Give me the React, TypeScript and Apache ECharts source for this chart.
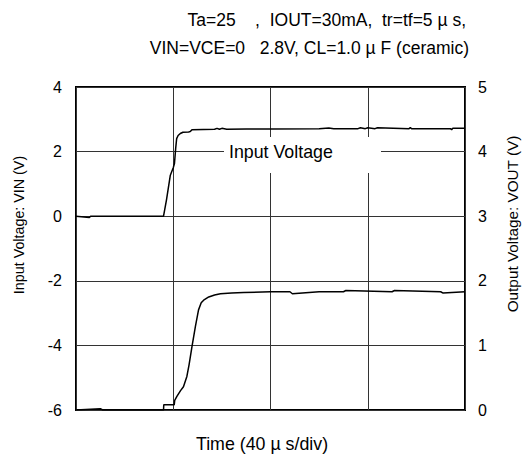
import React, { useEffect, useRef } from "react";
import * as echarts from "echarts";

// Time in µs, voltages in V
const vinTime = [0, 5.5, 6, 36.0, 37.2, 38.8, 40.0, 40.5, 41.0, 41.4, 42.0, 42.9, 44.0, 46.3, 47.0, 47.7, 57, 58, 59, 60, 62, 70, 80, 100, 104, 106, 110, 116, 117, 119, 120, 123, 124, 137, 137.5, 138, 154, 154.5, 155, 160];
const vinValue = [0, -0.04, 0, 0, 0.5, 1.27, 1.5, 1.63, 2.1, 2.4, 2.5, 2.56, 2.6, 2.61, 2.62, 2.68, 2.69, 2.72, 2.69, 2.72, 2.69, 2.70, 2.70, 2.71, 2.73, 2.71, 2.71, 2.71, 2.74, 2.71, 2.74, 2.71, 2.74, 2.71, 2.74, 2.71, 2.71, 2.68, 2.72, 2.72];

const voutTime = [0, 10, 11, 36.0, 36.1, 40.4, 40.6, 41.5, 43.0, 44.2, 45.6, 46.5, 47.7, 49.1, 50.4, 51.5, 52.5, 54.6, 57.0, 59.4, 64.0, 68.9, 80, 88, 89, 100, 110, 111, 130, 131, 150, 151, 160];
const voutValue = [0, 0.02, 0, 0, 0.08, 0.08, 0.15, 0.21, 0.3, 0.36, 0.52, 0.7, 0.98, 1.29, 1.55, 1.66, 1.70, 1.75, 1.78, 1.80, 1.81, 1.82, 1.83, 1.83, 1.80, 1.83, 1.83, 1.85, 1.83, 1.85, 1.83, 1.81, 1.83];

const leftTicks = { min: -6, max: 4, interval: 2 };
const rightTicks = { min: 0, max: 5, interval: 1 };
const timeAxis = { min: 0, max: 160, interval: 40 };

const titleLine1 = "Ta=25    ,  IOUT=30mA,  tr=tf=5 µ s,";
const titleLine2 = "VIN=VCE=0   2.8V, CL=1.0 µ F (ceramic)";
const xName = "Time (40 µ s/div)";
const leftName = "Input Voltage: VIN (V)";
const rightName = "Output Voltage: VOUT (V)";
const innerLabel = "Input Voltage";

const FONT = "'Liberation Sans', Arial, sans-serif";

export default function App() {
  const ref = useRef<HTMLDivElement>(null);
  useEffect(() => {
    if (!ref.current) return;
    const chart = echarts.init(ref.current, null, { renderer: "svg" });
    const gridColor = "#333";
    chart.setOption({
      animation: false,
      backgroundColor: "#fff",
      textStyle: { fontFamily: FONT },
      grid: { left: 76, right: 63, top: 87, bottom: 47, show: true, borderColor: "#000", borderWidth: 2, backgroundColor: "transparent" },
      xAxis: {
        type: "value",
        min: timeAxis.min,
        max: timeAxis.max,
        interval: timeAxis.interval,
        axisLabel: { show: false },
        axisTick: { show: false },
        axisLine: { show: false },
        splitLine: { show: true, lineStyle: { color: gridColor, width: 1 } },
      },
      yAxis: [
        {
          type: "value",
          min: leftTicks.min,
          max: leftTicks.max,
          interval: leftTicks.interval,
          position: "left",
          axisLabel: { color: "#000", fontSize: 16, margin: 14, fontFamily: FONT },
          axisTick: { show: false },
          axisLine: { show: false },
          splitLine: { show: true, lineStyle: { color: gridColor, width: 1 } },
        },
        {
          type: "value",
          min: rightTicks.min,
          max: rightTicks.max,
          interval: rightTicks.interval,
          position: "right",
          axisLabel: { color: "#000", fontSize: 16, margin: 13, fontFamily: FONT },
          axisTick: { show: false },
          axisLine: { show: false },
          splitLine: { show: false },
        },
      ],
      series: [
        {
          type: "line",
          yAxisIndex: 0,
          data: vinTime.map((t, i) => [t, vinValue[i]]),
          showSymbol: false,
          lineStyle: { color: "#000", width: 1.5 },
          z: 5,
        },
        {
          type: "line",
          yAxisIndex: 1,
          data: voutTime.map((t, i) => [t, voutValue[i]]),
          showSymbol: false,
          lineStyle: { color: "#000", width: 1.5 },
          z: 5,
        },
      ],
      graphic: [
        {
          type: "rect",
          shape: { x: 224, y: 137, width: 157, height: 36 },
          style: { fill: "#fff" },
          z: 10,
        },
        {
          type: "text",
          x: 229,
          y: 152,
          style: { text: innerLabel, fontSize: 17.8, fontFamily: FONT, fill: "#000", textVerticalAlign: "middle", textAlign: "left" },
          z: 11,
        },
        {
          type: "text",
          x: 466,
          y: 20,
          style: { text: titleLine1, fontSize: 17.5, fontFamily: FONT, fill: "#000", textVerticalAlign: "middle", textAlign: "right" },
        },
        {
          type: "text",
          x: 469,
          y: 48,
          style: { text: titleLine2, fontSize: 17.5, fontFamily: FONT, fill: "#000", textVerticalAlign: "middle", textAlign: "right" },
        },
        {
          type: "text",
          x: 262,
          y: 444,
          style: { text: xName, fontSize: 17.8, fontFamily: FONT, fill: "#000", textVerticalAlign: "middle", textAlign: "center" },
        },
        {
          type: "text",
          x: 19,
          y: 225,
          rotation: Math.PI / 2,
          style: { text: leftName, fontSize: 14.3, fontFamily: FONT, fill: "#000", textVerticalAlign: "middle", textAlign: "center" },
        },
        {
          type: "text",
          x: 512,
          y: 224,
          rotation: Math.PI / 2,
          style: { text: rightName, fontSize: 15.3, fontFamily: FONT, fill: "#000", textVerticalAlign: "middle", textAlign: "center" },
        },
      ],
    });
    return () => chart.dispose();
  }, []);
  return <div ref={ref} style={{ position: "fixed", left: 0, top: 0, width: 528, height: 457 }} />;
}
